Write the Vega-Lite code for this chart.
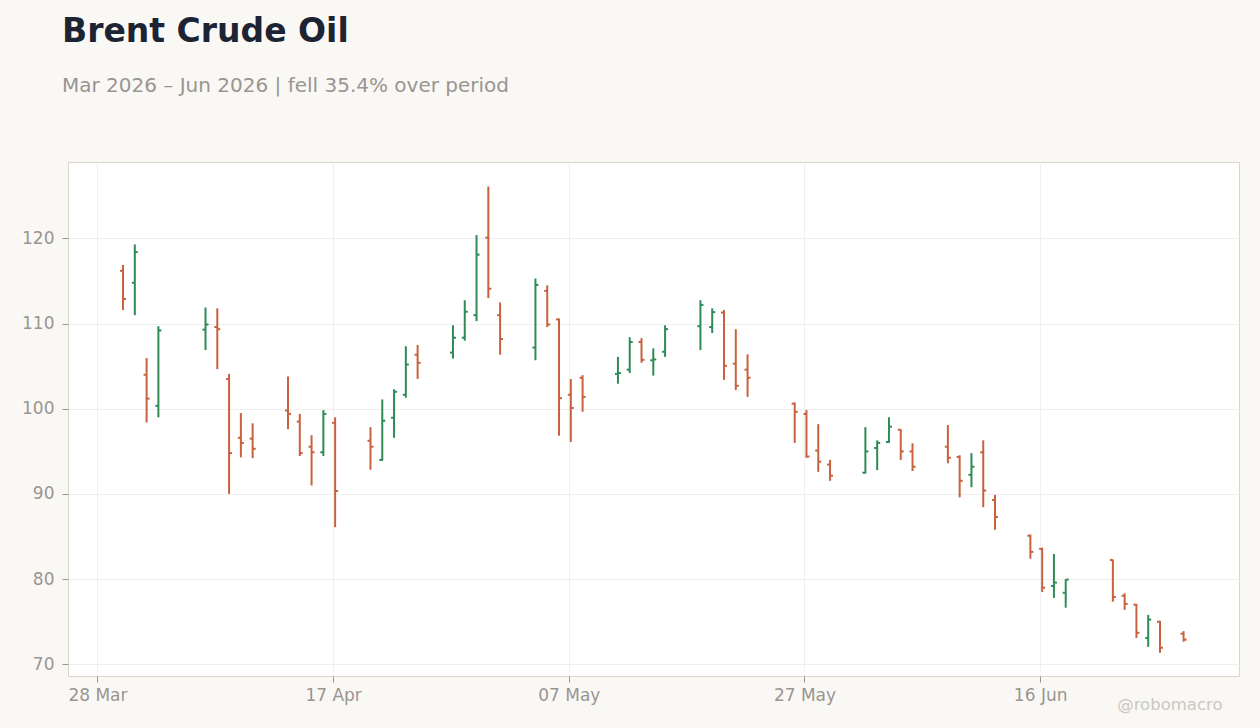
{
  "$schema": "https://vega.github.io/schema/vega-lite/v6.json",
  "width": 1171,
  "height": 514,
  "autosize": {"type": "none"},
  "padding": {"left": 68, "top": 162, "right": 21, "bottom": 52},
  "background": "#f9f8f5",
  "title": {
    "text": "Brent Crude Oil",
    "subtitle": "Mar 2026 – Jun 2026 | fell 35.4% over period",
    "anchor": "start",
    "frame": "group",
    "dx": -6,
    "offset": 66,
    "font": "DejaVu Sans",
    "fontSize": 33,
    "fontWeight": "bold",
    "color": "#1c2333",
    "subtitleFont": "DejaVu Sans",
    "subtitleFontSize": 20,
    "subtitleColor": "#999590",
    "subtitlePadding": 27
  },
  "config": {
    "view": {"fill": "white", "stroke": "#dcd5cb", "strokeWidth": 1},
    "axis": {
      "labelFont": "DejaVu Sans",
      "labelFontSize": 17,
      "labelColor": "#999590",
      "gridColor": "#efefef",
      "gridWidth": 1,
      "tickColor": "#999590",
      "tickSize": 6,
      "domain": false
    }
  },
  "data": {
    "values": [
      {"date": "2026-03-30", "open": 116.2, "high": 116.9, "low": 111.6, "close": 112.9},
      {"date": "2026-03-31", "open": 114.8, "high": 119.3, "low": 111.0, "close": 118.4},
      {"date": "2026-04-01", "open": 104.0, "high": 105.95, "low": 98.4, "close": 101.2},
      {"date": "2026-04-02", "open": 100.35, "high": 109.7, "low": 99.0, "close": 109.2},
      {"date": "2026-04-06", "open": 109.3, "high": 111.9, "low": 106.9, "close": 109.9},
      {"date": "2026-04-07", "open": 109.6, "high": 111.8, "low": 104.65, "close": 109.35},
      {"date": "2026-04-08", "open": 103.5, "high": 104.1, "low": 90.0, "close": 94.8},
      {"date": "2026-04-09", "open": 96.6, "high": 99.5, "low": 94.3, "close": 96.0},
      {"date": "2026-04-10", "open": 96.5, "high": 98.3, "low": 94.2, "close": 95.3},
      {"date": "2026-04-13", "open": 99.8, "high": 103.8, "low": 97.6, "close": 99.4},
      {"date": "2026-04-14", "open": 98.5, "high": 99.4, "low": 94.45, "close": 94.8},
      {"date": "2026-04-15", "open": 95.55, "high": 96.9, "low": 91.0, "close": 94.9},
      {"date": "2026-04-16", "open": 94.9, "high": 99.85, "low": 94.45, "close": 99.4},
      {"date": "2026-04-17", "open": 98.35, "high": 99.0, "low": 86.1, "close": 90.35},
      {"date": "2026-04-20", "open": 96.25, "high": 97.85, "low": 92.85, "close": 95.55},
      {"date": "2026-04-21", "open": 94.0, "high": 101.1, "low": 93.9, "close": 98.6},
      {"date": "2026-04-22", "open": 98.95, "high": 102.3, "low": 96.6, "close": 102.0},
      {"date": "2026-04-23", "open": 101.65, "high": 107.35, "low": 101.3, "close": 105.2},
      {"date": "2026-04-24", "open": 106.35, "high": 107.5, "low": 103.5, "close": 105.4},
      {"date": "2026-04-27", "open": 106.6, "high": 109.8, "low": 105.9, "close": 108.35},
      {"date": "2026-04-28", "open": 108.35, "high": 112.75, "low": 108.0, "close": 111.4},
      {"date": "2026-04-29", "open": 111.0, "high": 120.4, "low": 110.3, "close": 118.1},
      {"date": "2026-04-30", "open": 120.1, "high": 126.1, "low": 113.0, "close": 114.1},
      {"date": "2026-05-01", "open": 111.0, "high": 112.5, "low": 106.35, "close": 108.2},
      {"date": "2026-05-04", "open": 107.2, "high": 115.3, "low": 105.7, "close": 114.55},
      {"date": "2026-05-05", "open": 113.85, "high": 114.5, "low": 109.6, "close": 109.9},
      {"date": "2026-05-06", "open": 110.5, "high": 110.6, "low": 96.85, "close": 101.25},
      {"date": "2026-05-07", "open": 101.65, "high": 103.5, "low": 96.1, "close": 100.1},
      {"date": "2026-05-08", "open": 103.65, "high": 103.95, "low": 99.65, "close": 101.4},
      {"date": "2026-05-11", "open": 104.1, "high": 106.1, "low": 102.95, "close": 104.2},
      {"date": "2026-05-12", "open": 104.6, "high": 108.4, "low": 104.2, "close": 107.85},
      {"date": "2026-05-13", "open": 107.85, "high": 108.3, "low": 105.4, "close": 105.75},
      {"date": "2026-05-14", "open": 105.7, "high": 107.1, "low": 103.9, "close": 105.8},
      {"date": "2026-05-15", "open": 106.7, "high": 109.8, "low": 106.1, "close": 109.35},
      {"date": "2026-05-18", "open": 109.7, "high": 112.75, "low": 106.9, "close": 112.2},
      {"date": "2026-05-19", "open": 109.6, "high": 111.8, "low": 108.9, "close": 111.35},
      {"date": "2026-05-20", "open": 111.3, "high": 111.6, "low": 103.4, "close": 105.05},
      {"date": "2026-05-21", "open": 105.3, "high": 109.35, "low": 102.2, "close": 102.7},
      {"date": "2026-05-22", "open": 104.6, "high": 106.4, "low": 101.4, "close": 103.65},
      {"date": "2026-05-26", "open": 100.6, "high": 100.75, "low": 96.0, "close": 99.65},
      {"date": "2026-05-27", "open": 99.4, "high": 99.85, "low": 94.25, "close": 94.4},
      {"date": "2026-05-28", "open": 95.1, "high": 98.2, "low": 92.6, "close": 93.8},
      {"date": "2026-05-29", "open": 93.45, "high": 94.0, "low": 91.55, "close": 92.15},
      {"date": "2026-06-01", "open": 92.5, "high": 97.85, "low": 92.4, "close": 95.0},
      {"date": "2026-06-02", "open": 95.4, "high": 96.3, "low": 92.8, "close": 96.0},
      {"date": "2026-06-03", "open": 96.1, "high": 99.0, "low": 96.0, "close": 97.9},
      {"date": "2026-06-04", "open": 97.55, "high": 97.6, "low": 94.0, "close": 95.0},
      {"date": "2026-06-05", "open": 95.0, "high": 95.95, "low": 92.7, "close": 93.2},
      {"date": "2026-06-08", "open": 95.55, "high": 98.1, "low": 93.6, "close": 94.25},
      {"date": "2026-06-09", "open": 94.35, "high": 94.55, "low": 89.6, "close": 91.55},
      {"date": "2026-06-10", "open": 92.25, "high": 94.8, "low": 90.8, "close": 93.2},
      {"date": "2026-06-11", "open": 94.9, "high": 96.3, "low": 88.45, "close": 90.4},
      {"date": "2026-06-12", "open": 89.3, "high": 89.9, "low": 85.8, "close": 87.3},
      {"date": "2026-06-15", "open": 85.1, "high": 85.25, "low": 82.4, "close": 83.2},
      {"date": "2026-06-16", "open": 83.55, "high": 83.7, "low": 78.5, "close": 79.0},
      {"date": "2026-06-17", "open": 79.2, "high": 82.95, "low": 77.8, "close": 79.6},
      {"date": "2026-06-18", "open": 78.4, "high": 80.0, "low": 76.65, "close": 79.95},
      {"date": "2026-06-22", "open": 82.25, "high": 82.3, "low": 77.35, "close": 77.9},
      {"date": "2026-06-23", "open": 78.05, "high": 78.35, "low": 76.4, "close": 77.1},
      {"date": "2026-06-24", "open": 77.0, "high": 77.1, "low": 73.1, "close": 73.7},
      {"date": "2026-06-25", "open": 73.1, "high": 75.8, "low": 72.05, "close": 75.25},
      {"date": "2026-06-26", "open": 75.0, "high": 75.1, "low": 71.35, "close": 71.95},
      {"date": "2026-06-28", "open": 73.6, "high": 73.9, "low": 72.65, "close": 72.9}
    ]
  },
  "encoding": {
    "x": {
      "field": "date",
      "type": "temporal",
      "scale": {
        "type": "utc",
        "domain": [
          {"year": 2026, "month": 3, "date": 25, "hours": 12, "utc": true},
          {"year": 2026, "month": 7, "date": 2, "hours": 21, "utc": true}
        ]
      },
      "axis": {
        "values": [
          {"year": 2026, "month": 3, "date": 28, "utc": true},
          {"year": 2026, "month": 4, "date": 17, "utc": true},
          {"year": 2026, "month": 5, "date": 7, "utc": true},
          {"year": 2026, "month": 5, "date": 27, "utc": true},
          {"year": 2026, "month": 6, "date": 16, "utc": true}
        ],
        "labelExpr": "utcFormat(datum.value, '%d %b')",
        "labelPadding": 5,
        "title": "@robomacro",
        "titleFont": "DejaVu Sans",
        "titleFontSize": 16.5,
        "titleFontWeight": "normal",
        "titleColor": "#cbc7c2",
        "titleAnchor": null,
        "titleAlign": "right",
        "titleBaseline": "alphabetic",
        "titleX": 1154,
        "titleY": 33
      }
    },
    "color": {
      "condition": {"test": "datum.close >= datum.open", "value": "#2e8b57"},
      "value": "#c8623e"
    }
  },
  "layer": [
    {
      "mark": {"type": "rule", "strokeWidth": 2, "xOffset": 2, "x2Offset": 2},
      "encoding": {
        "y": {
          "field": "low",
          "type": "quantitative",
          "scale": {"domain": [68.63, 128.98], "nice": false, "zero": false},
          "axis": {
            "values": [70, 80, 90, 100, 110, 120],
            "title": null,
            "labelPadding": 8
          }
        },
        "y2": {"field": "high"}
      }
    },
    {
      "mark": {"type": "rule", "strokeWidth": 2, "xOffset": -1, "x2Offset": 2},
      "encoding": {
        "x2": {"field": "date"},
        "y": {"field": "open", "type": "quantitative"}
      }
    },
    {
      "mark": {"type": "rule", "strokeWidth": 2, "xOffset": 2, "x2Offset": 5},
      "encoding": {
        "x2": {"field": "date"},
        "y": {"field": "close", "type": "quantitative"}
      }
    }
  ]
}
